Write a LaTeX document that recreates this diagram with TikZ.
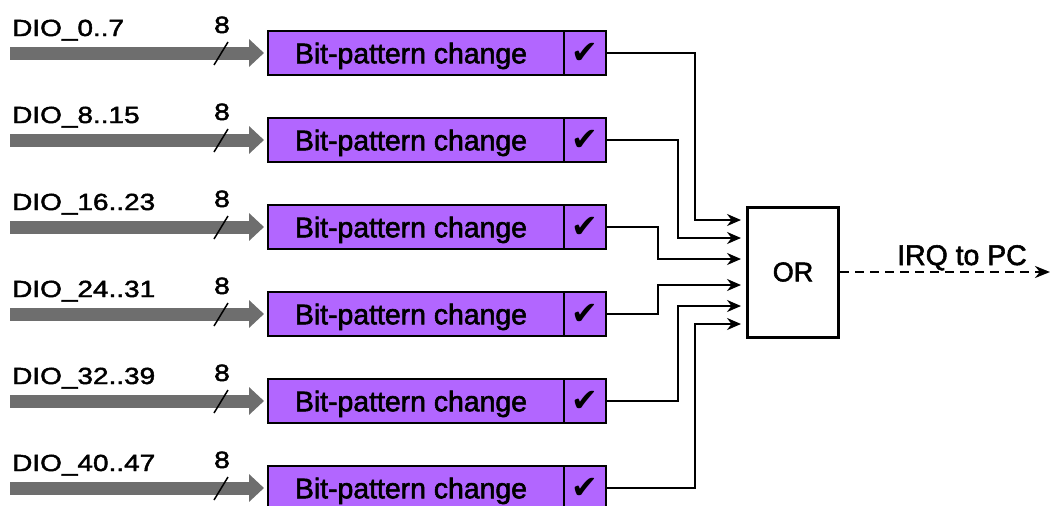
\documentclass[tikz,border=0pt]{standalone}
\usepackage{fontspec}
\setmainfont[FakeBold=2]{Liberation Sans}
\newfontfamily\widesans[FakeStretch=1.2,FakeBold=2]{Liberation Sans}
\newfontfamily\symfont{DejaVu Sans}
\usetikzlibrary{arrows.meta}
\definecolor{patfill}{RGB}{178,102,255}
\definecolor{busgray}{RGB}{110,110,110}

\begin{document}
\begin{tikzpicture}[x=1pt,y=-1pt,
  patbox/.style={draw=black,line width=2pt,fill=patfill,minimum height=44pt,
    inner sep=0pt,text depth=0pt,font=\fontsize{28.4}{34}\selectfont},
  checkbox/.style={patbox,minimum width=42pt,text depth=0pt,font=\symfont\fontsize{32}{34}\selectfont},
  orbox/.style={draw=black,line width=3pt,fill=white,minimum width=91pt,minimum height=130pt,
    inner sep=0pt,font=\fontsize{27}{32}\selectfont},
  bus/.style={draw=busgray,line width=13pt,-{Triangle[length=15pt,width=27pt]},shorten >=3pt},
  wire/.style={draw=black,line width=2pt,-{Stealth[length=14pt,width=12pt]},shorten >=5pt},
  irq/.style={draw=black,line width=2.5pt,dash pattern=on 9pt off 6pt,-{Stealth[length=15pt,width=12pt]}},
  diolabel/.style={anchor=base west,inner sep=0pt,font=\widesans\fontsize{23.3}{28}\selectfont},
  widthlabel/.style={anchor=base,inner sep=0pt,font=\widesans\fontsize{23.5}{28}\selectfont},
  tick/.style={draw=black,line width=1.5pt}
]
\useasboundingbox (0,0) rectangle (1050,506);

% OR gate collecting all change flags
\node[orbox] (or) at (793,272) {OR};

% IRQ output
\coordinate (pc) at (1050,272);
\draw[irq] (or.east) -- (pc);
\node[anchor=base,inner sep=0pt,font=\fontsize{28.4}{34}\selectfont] (irqlab) at (962,265) {IRQ to PC};

% One bit-pattern detector per 8-bit DIO group
\foreach \i/\lab/\dx/\dy in {0/{DIO\_0..7}/88/52, 1/{DIO\_8..15}/71/34, 2/{DIO\_16..23}/51/13,
                             3/{DIO\_24..31}/51/-13, 4/{DIO\_32..39}/71/-34, 5/{DIO\_40..47}/88/-52}{
  \pgfmathsetmacro{\top}{31+87*\i}
  \node[patbox,minimum width=296pt] (b\i) at (416,\top+22) {\hspace*{-10pt}Bit-pattern change};
  \node[checkbox] (c\i) at (585,\top+22) {✔};
  \coordinate (in\i) at (10,\top+22);
  \draw[bus] (in\i) -- (b\i.west);
  \node[diolabel] (d\i) at (12,\top+5) {\lab};
  \node[widthlabel] (w\i) at (222,\top+2) {8};
  \draw[tick] (214,\top+34) -- (228,\top+11);
  \draw[wire] (c\i.east) -- ++(\dx,0) |- ([yshift=\dy pt]or.west);
}
\end{tikzpicture}
\end{document}
